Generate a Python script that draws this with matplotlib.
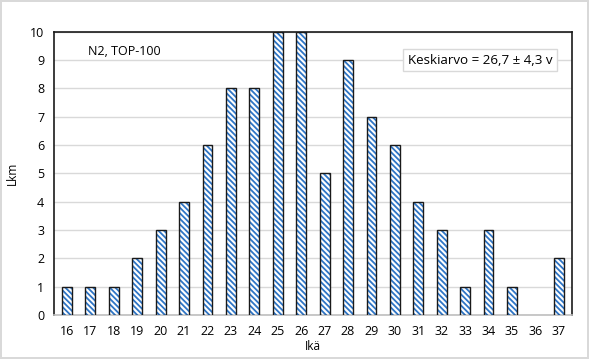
import matplotlib.pyplot as plt

# age distribution
ages = list(range(16, 38))
counts = [1, 1, 1, 2, 3, 4, 6, 8, 8, 10, 10, 5, 9, 7, 6, 4, 3, 1, 3, 1, 0, 2]
y_ticks = list(range(0, 11))

plt.rcParams['font.family'] = ['Open Sans', 'DejaVu Sans']
plt.rcParams['hatch.linewidth'] = 1.3

fig = plt.figure(figsize=(5.89, 3.59), dpi=100)
fig.patch.set_edgecolor('#d9d9d9')
fig.patch.set_linewidth(1.5)
ax = fig.add_axes([0.0917, 0.1226, 0.879, 0.789])

# hatch layer (blue) then outline layer (dark)
ax.bar(ages, counts, width=0.42, color='white', edgecolor='#2e75c6',
       linewidth=0, hatch='\\\\\\\\\\\\', zorder=3)
outline = ['#1a1a1a' if c > 0 else 'none' for c in counts]
ax.bar(ages, counts, width=0.42, fill=False, edgecolor=outline,
       linewidth=1.0, zorder=4)

ax.set_xlim(15.45, 37.55)
ax.set_ylim(0, 10)
ax.set_xticks(ages)
ax.set_yticks(y_ticks)
ax.tick_params(length=0, labelsize=9, pad=7)
ax.grid(axis='y', color='#d9d9d9', linewidth=1, zorder=0)
for s in ax.spines.values():
    s.set_color('#1a1a1a')
    s.set_linewidth(1.2)
ax.spines['bottom'].set_color('#bfbfbf')

ax.set_xlabel('Ikä', fontsize=8.5, labelpad=2)
ax.set_ylabel('Lkm', fontsize=8.5, labelpad=8)

ax.text(0.065, 0.93, 'N2, TOP-100', transform=ax.transAxes, fontsize=9,
        va='center', ha='left')
ax.text(0.962, 0.9, 'Keskiarvo = 26,7 ± 4,3 v', transform=ax.transAxes,
        fontsize=9.6, va='center', ha='right',
        bbox=dict(boxstyle='square,pad=0.35', facecolor='white',
                  edgecolor='#d9d9d9', linewidth=1), zorder=5)

fig.savefig('out.png', dpi=100, edgecolor=fig.get_edgecolor())
